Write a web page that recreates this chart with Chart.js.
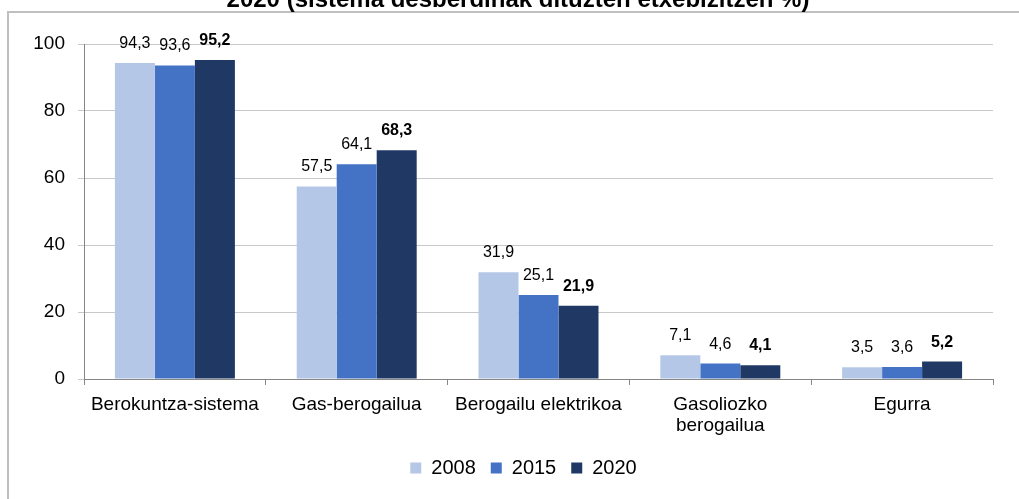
<!DOCTYPE html>
<html>
<head>
<meta charset="utf-8">
<script src="https://cdn.jsdelivr.net/npm/chart.js@4"></script>
<style>
  body { margin: 0; background: #fff; }
  canvas { display: block; }
</style>
</head>
<body>
<canvas id="grafikoa" width="1019" height="499"></canvas>
<script>
// datuak
const kategoriak = ["Berokuntza-sistema", "Gas-berogailua", "Berogailu elektrikoa", ["Gasoliozko", "berogailua"], "Egurra"];
const urteak = ["2008", "2015", "2020"];
const balioak2008 = [94.3, 57.5, 31.9, 7.1, 3.5];
const balioak2015 = [93.6, 64.1, 25.1, 4.6, 3.6];
const balioak2020 = [95.2, 68.3, 21.9, 4.1, 5.2];
const yTicks = [0, 20, 40, 60, 80, 100];
const izenburua = "2020 (sistema desberdinak dituzten etxebizitzen %)";

const koloreak = ["#b4c7e7", "#4472c4", "#203864"];
const letra = "Arial, 'Liberation Sans', sans-serif";

// balioa komarekin
function formatua(v) {
  return v.toFixed(1).replace(".", ",");
}

// marko grisa eta izenburua
const markoa = {
  id: "markoa",
  beforeDraw(chart) {
    const ctx = chart.ctx;
    ctx.save();
    ctx.fillStyle = "#fff";
    ctx.fillRect(0, 0, chart.width, chart.height);
    ctx.strokeStyle = "#bfbfbf";
    ctx.lineWidth = 2;
    ctx.strokeRect(8, 12, chart.width + 40, chart.height + 40);
    ctx.fillStyle = "#000";
    ctx.font = "bold 24px " + letra;
    ctx.textAlign = "center";
    ctx.textBaseline = "alphabetic";
    ctx.fillText(izenburua, 518, 7);
    ctx.restore();
  }
};

// legenda pixka bat eskuinera
const legendaMugitu = {
  id: "legendaMugitu",
  afterLayout(chart) {
    const leg = chart.legend;
    if (!leg) return;
    leg.left += 27;
    leg.right += 27;
    if (leg.legendHitBoxes) leg.legendHitBoxes.forEach(b => { b.left += 27; });
  }
};

// balioen etiketak
const etiketak = {
  id: "etiketak",
  afterDatasetsDraw(chart) {
    const ctx = chart.ctx;
    ctx.save();
    ctx.fillStyle = "#000";
    ctx.textAlign = "center";
    ctx.textBaseline = "alphabetic";
    chart.data.datasets.forEach((ds, i) => {
      const meta = chart.getDatasetMeta(i);
      ctx.font = (i === 2 ? "bold " : "") + "16px " + letra;
      meta.data.forEach((bar, j) => {
        ctx.fillText(formatua(ds.data[j]), bar.x, bar.y - 15);
      });
    });
    ctx.restore();
  }
};

new Chart(document.getElementById("grafikoa"), {
  type: "bar",
  data: {
    labels: kategoriak,
    datasets: [
      { label: urteak[0], data: balioak2008, backgroundColor: koloreak[0] },
      { label: urteak[1], data: balioak2015, backgroundColor: koloreak[1] },
      { label: urteak[2], data: balioak2020, backgroundColor: koloreak[2] }
    ]
  },
  options: {
    responsive: false,
    animation: false,
    categoryPercentage: 0.66,
    barPercentage: 1,
    layout: { padding: { left: 0, top: 44, right: 26, bottom: 11 } },
    plugins: {
      legend: {
        position: "bottom",
        labels: {
          boxWidth: 11,
          boxHeight: 11,
          padding: 15,
          color: "#000",
          font: { family: letra, size: 20 }
        }
      },
      tooltip: { enabled: false }
    },
    scales: {
      x: {
        afterFit(scale) { scale.height = 64; },
        grid: {
          offset: true,
          drawOnChartArea: false,
          tickLength: 6,
          color: "#868686"
        },
        border: { color: "#868686", width: 1 },
        ticks: {
          color: "#000",
          padding: 9,
          maxRotation: 0,
          autoSkip: false,
          font: { family: letra, size: 19, lineHeight: 1.1 }
        }
      },
      y: {
        min: 0,
        max: 100,
        afterFit(scale) { scale.width = 84; },
        afterBuildTicks(scale) { scale.ticks = yTicks.map(v => ({ value: v })); },
        grid: {
          color: "#c8c8c8",
          tickLength: 6
        },
        border: { color: "#868686", width: 1 },
        ticks: {
          color: "#000",
          padding: 13,
          font: { family: letra, size: 19 }
        }
      }
    }
  },
  plugins: [markoa, legendaMugitu, etiketak]
});
</script>
</body>
</html>
